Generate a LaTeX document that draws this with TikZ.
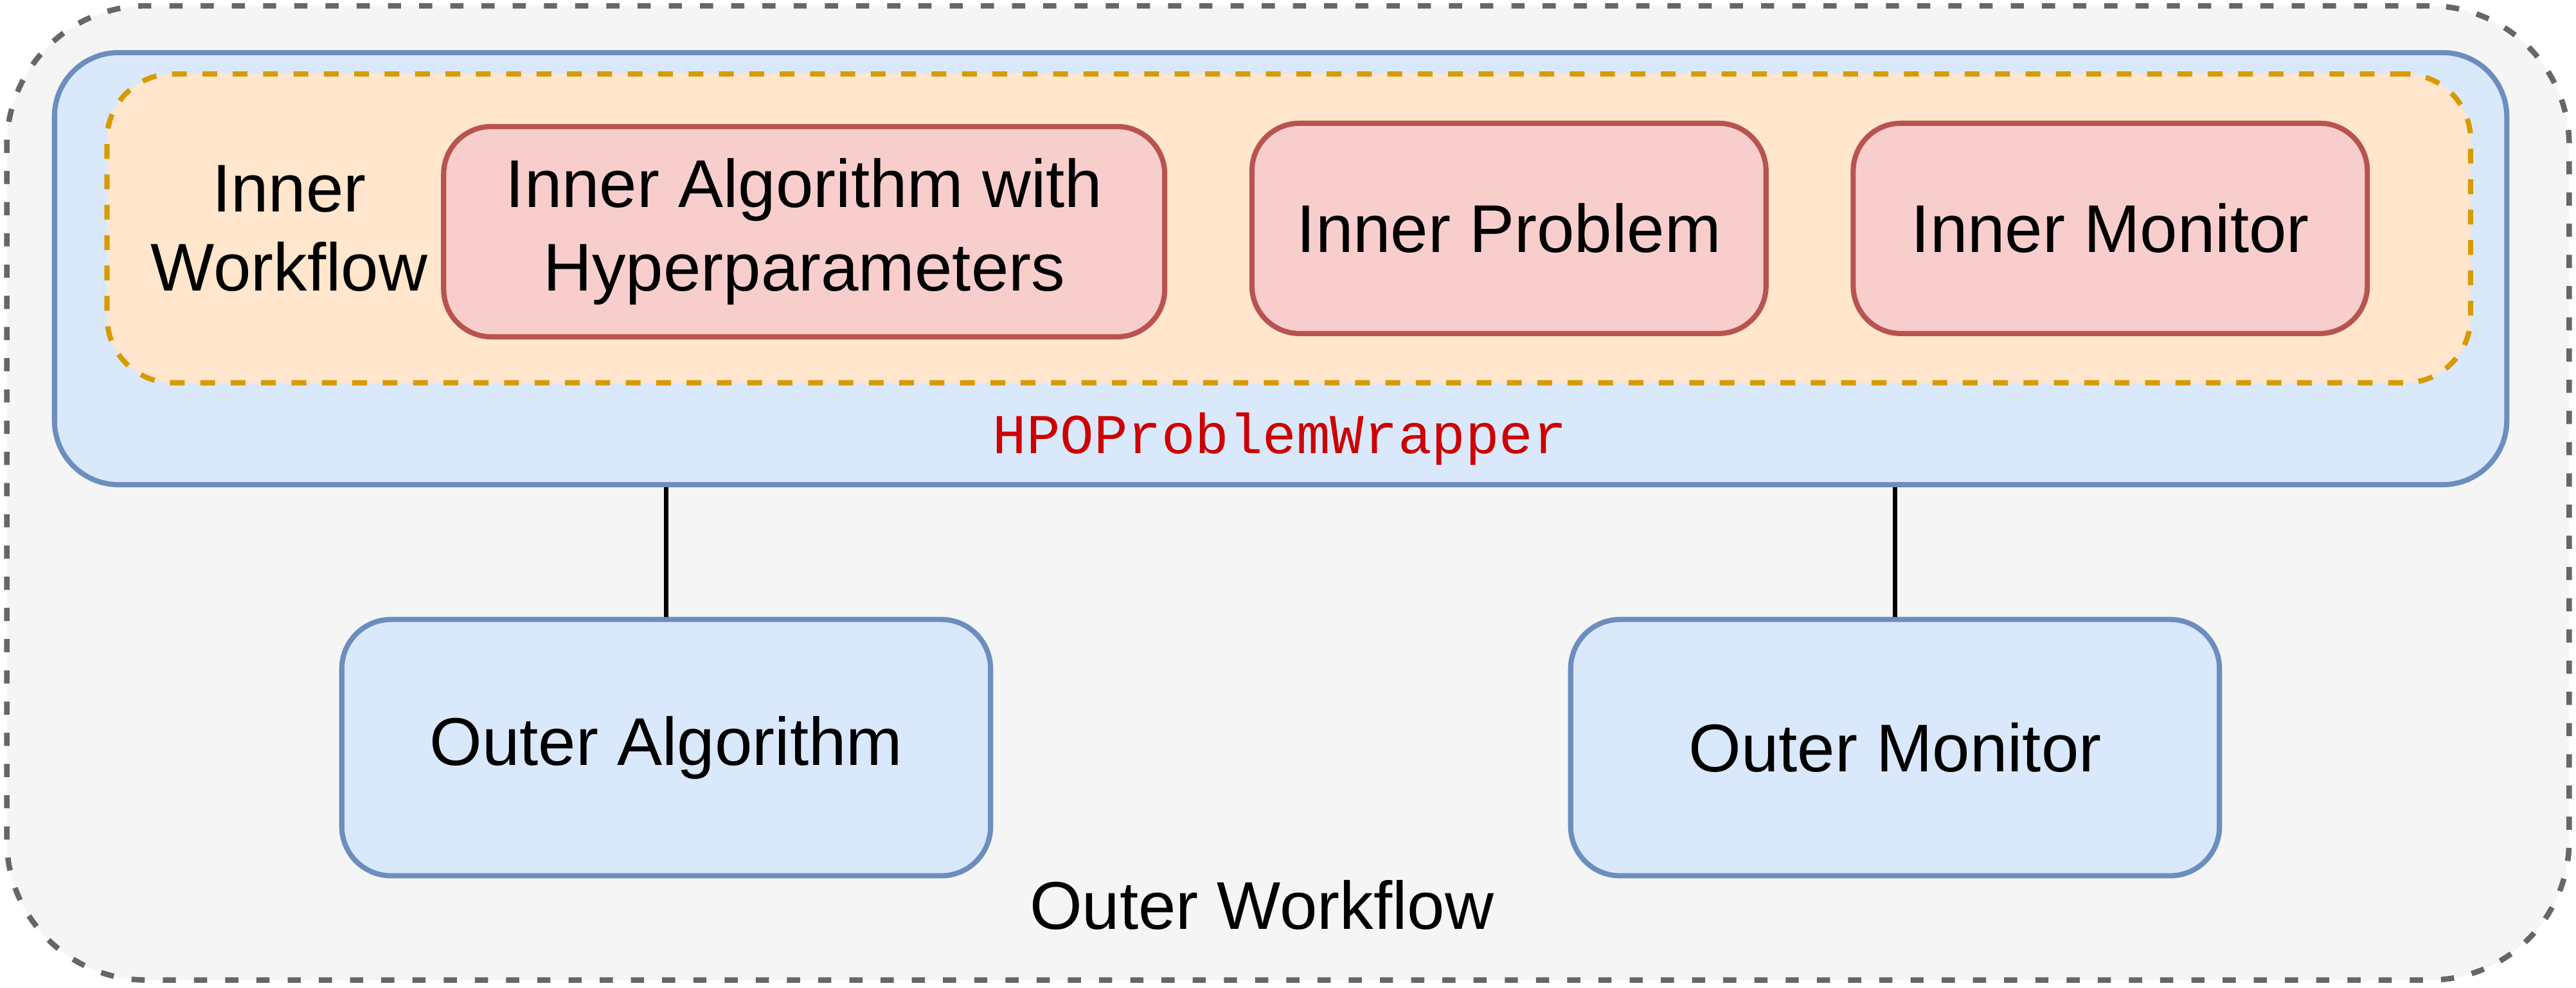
\documentclass[tikz,border=0pt]{standalone}
\usepackage{fontspec}
\setmainfont{Liberation Sans}
\setmonofont{Liberation Mono}
\usetikzlibrary{positioning}

\definecolor{outerfill}{HTML}{F5F5F5}
\definecolor{outerline}{HTML}{666666}
\definecolor{bluefill}{HTML}{DAE8FC}
\definecolor{blueline}{HTML}{6C8EBF}
\definecolor{orangefill}{HTML}{FFE6CC}
\definecolor{orangeline}{HTML}{D79B00}
\definecolor{redfill}{HTML}{F8CECC}
\definecolor{redline}{HTML}{B85450}
\definecolor{wrappertext}{HTML}{CC0000}

\tikzset{
    label text/.style={font=\fontsize{23.4}{27.5}\selectfont, align=center},
    innerbox/.style={draw=redline, fill=redfill, line width=1.8pt, rounded corners=0.58cm,
        minimum height=2.56cm, inner sep=0pt, label text},
    outerbox/.style={draw=blueline, fill=bluefill, line width=1.8pt, rounded corners=0.6cm,
        minimum width=7.9cm, minimum height=3.12cm, inner sep=0pt, label text},
    link/.style={line width=1.5pt, black}
}

\begin{document}
\begin{tikzpicture}[x=0.02cm, y=-0.02cm]
    \useasboundingbox (0,0) rectangle (1568,601);
    % outer workflow
    \node (outer) at (784,300) [draw=outerline, fill=outerfill, line width=1.9pt,
        dash pattern=on 0.16cm off 0.22cm, rounded corners=1.7cm,
        minimum width=31.2cm, minimum height=11.86cm] {};
    % wrapper
    \node (wrapper) at (779.5,163.5) [draw=blueline, fill=bluefill, line width=1.8pt,
        rounded corners=0.78cm, minimum width=29.86cm, minimum height=5.26cm] {};
    \node (inner) at (784.5,139) [draw=orangeline, fill=orangefill, line width=1.8pt,
        dash pattern=on 0.18cm off 0.19cm, rounded corners=0.8cm,
        minimum width=28.78cm, minimum height=3.76cm] {};
    \node (innerlabel) at (176,139) [label text] {Inner\\Workflow};

    \node (algo) at (489.5,141) [innerbox, minimum width=8.78cm,
        font=\fontsize{23.4}{29}\selectfont] {Inner Algorithm with\\Hyperparameters};
    \node (prob) at (918.5,139) [innerbox, minimum width=6.26cm] {Inner Problem};
    \node (mon) at (1284.5,139) [innerbox, minimum width=6.26cm] {Inner Monitor};

    \node (wrapname) at (779,267) [text=wrappertext, font=\ttfamily\fontsize{19.5}{22}\selectfont] {HPOProblemWrapper};

    % outer boxes
    \node (oalgo) at (405.5,455) [outerbox] {Outer Algorithm};
    \node (omon) at (1153.5,455) [outerbox] {Outer Monitor};
    \node (outerlabel) at (768,551) [label text] {Outer Workflow};

    \draw[link] (oalgo.north) -- (oalgo.north |- wrapper.south);
    \draw[link] (omon.north) -- (omon.north |- wrapper.south);
\end{tikzpicture}
\end{document}
